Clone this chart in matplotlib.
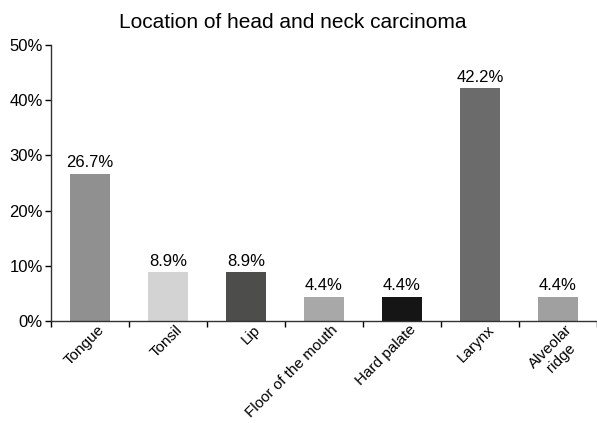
import matplotlib

matplotlib.use("Agg")
import matplotlib.pyplot as plt  # noqa: E402
import matplotlib.transforms as mtransforms  # noqa: E402
import numpy as np  # noqa: E402

plt.rcParams["font.family"] = ["Liberation Sans", "DejaVu Sans"]

sites = ["Tongue", "Tonsil", "Lip", "Floor of the mouth", "Hard palate", "Larynx", "Alveolar\nridge"]
percent = [26.7, 8.9, 8.9, 4.4, 4.4, 42.2, 4.4]
colors = ["#8f908f", "#d3d3d3", "#4d4d4b", "#a8a8a8", "#151515", "#6b6b6b", "#a0a0a0"]

fig = plt.figure(figsize=(5.97, 4.23), dpi=100)
ax = fig.add_axes([0.0854, 0.241, 0.9146, 0.6526])

x = np.arange(len(sites))
ax.bar(x, percent, width=0.52, color=colors)
for xi, v in zip(x, percent):
    ax.text(xi, v + 0.6, f"{v}%", ha="center", va="bottom", fontsize=12)

ax.set_xlim(-0.5, len(sites) - 0.5)
ax.set_ylim(0, 50)
ax.set_yticks(range(0, 51, 10))
ax.set_yticklabels([f"{t}%" for t in range(0, 51, 10)], fontsize=12)
ax.set_xticks(x)
ax.set_xticklabels(sites, rotation=45, ha="right", rotation_mode="anchor",
                   fontsize=11, multialignment="center", linespacing=1.15)
ax.set_xticks(np.arange(-0.5, len(sites)), minor=True)
ax.tick_params(axis="x", which="major", length=0, pad=1)
ax.tick_params(axis="x", which="minor", length=4, width=1, direction="out")
ax.tick_params(axis="y", length=4, width=1, direction="out", pad=2)

# nudge rotated labels a bit right, like the original
shift = mtransforms.ScaledTranslation(7 / 100, 0, fig.dpi_scale_trans)
for lab in ax.get_xticklabels():
    lab.set_transform(lab.get_transform() + shift)

for s in ["top", "right"]:
    ax.spines[s].set_visible(False)
for s in ["left", "bottom"]:
    ax.spines[s].set_linewidth(1)
    ax.spines[s].set_color("#333333")

fig.text(0.49, 0.947, "Location of head and neck carcinoma", ha="center", va="center", fontsize=15)

fig.savefig("out.png", dpi=100)
